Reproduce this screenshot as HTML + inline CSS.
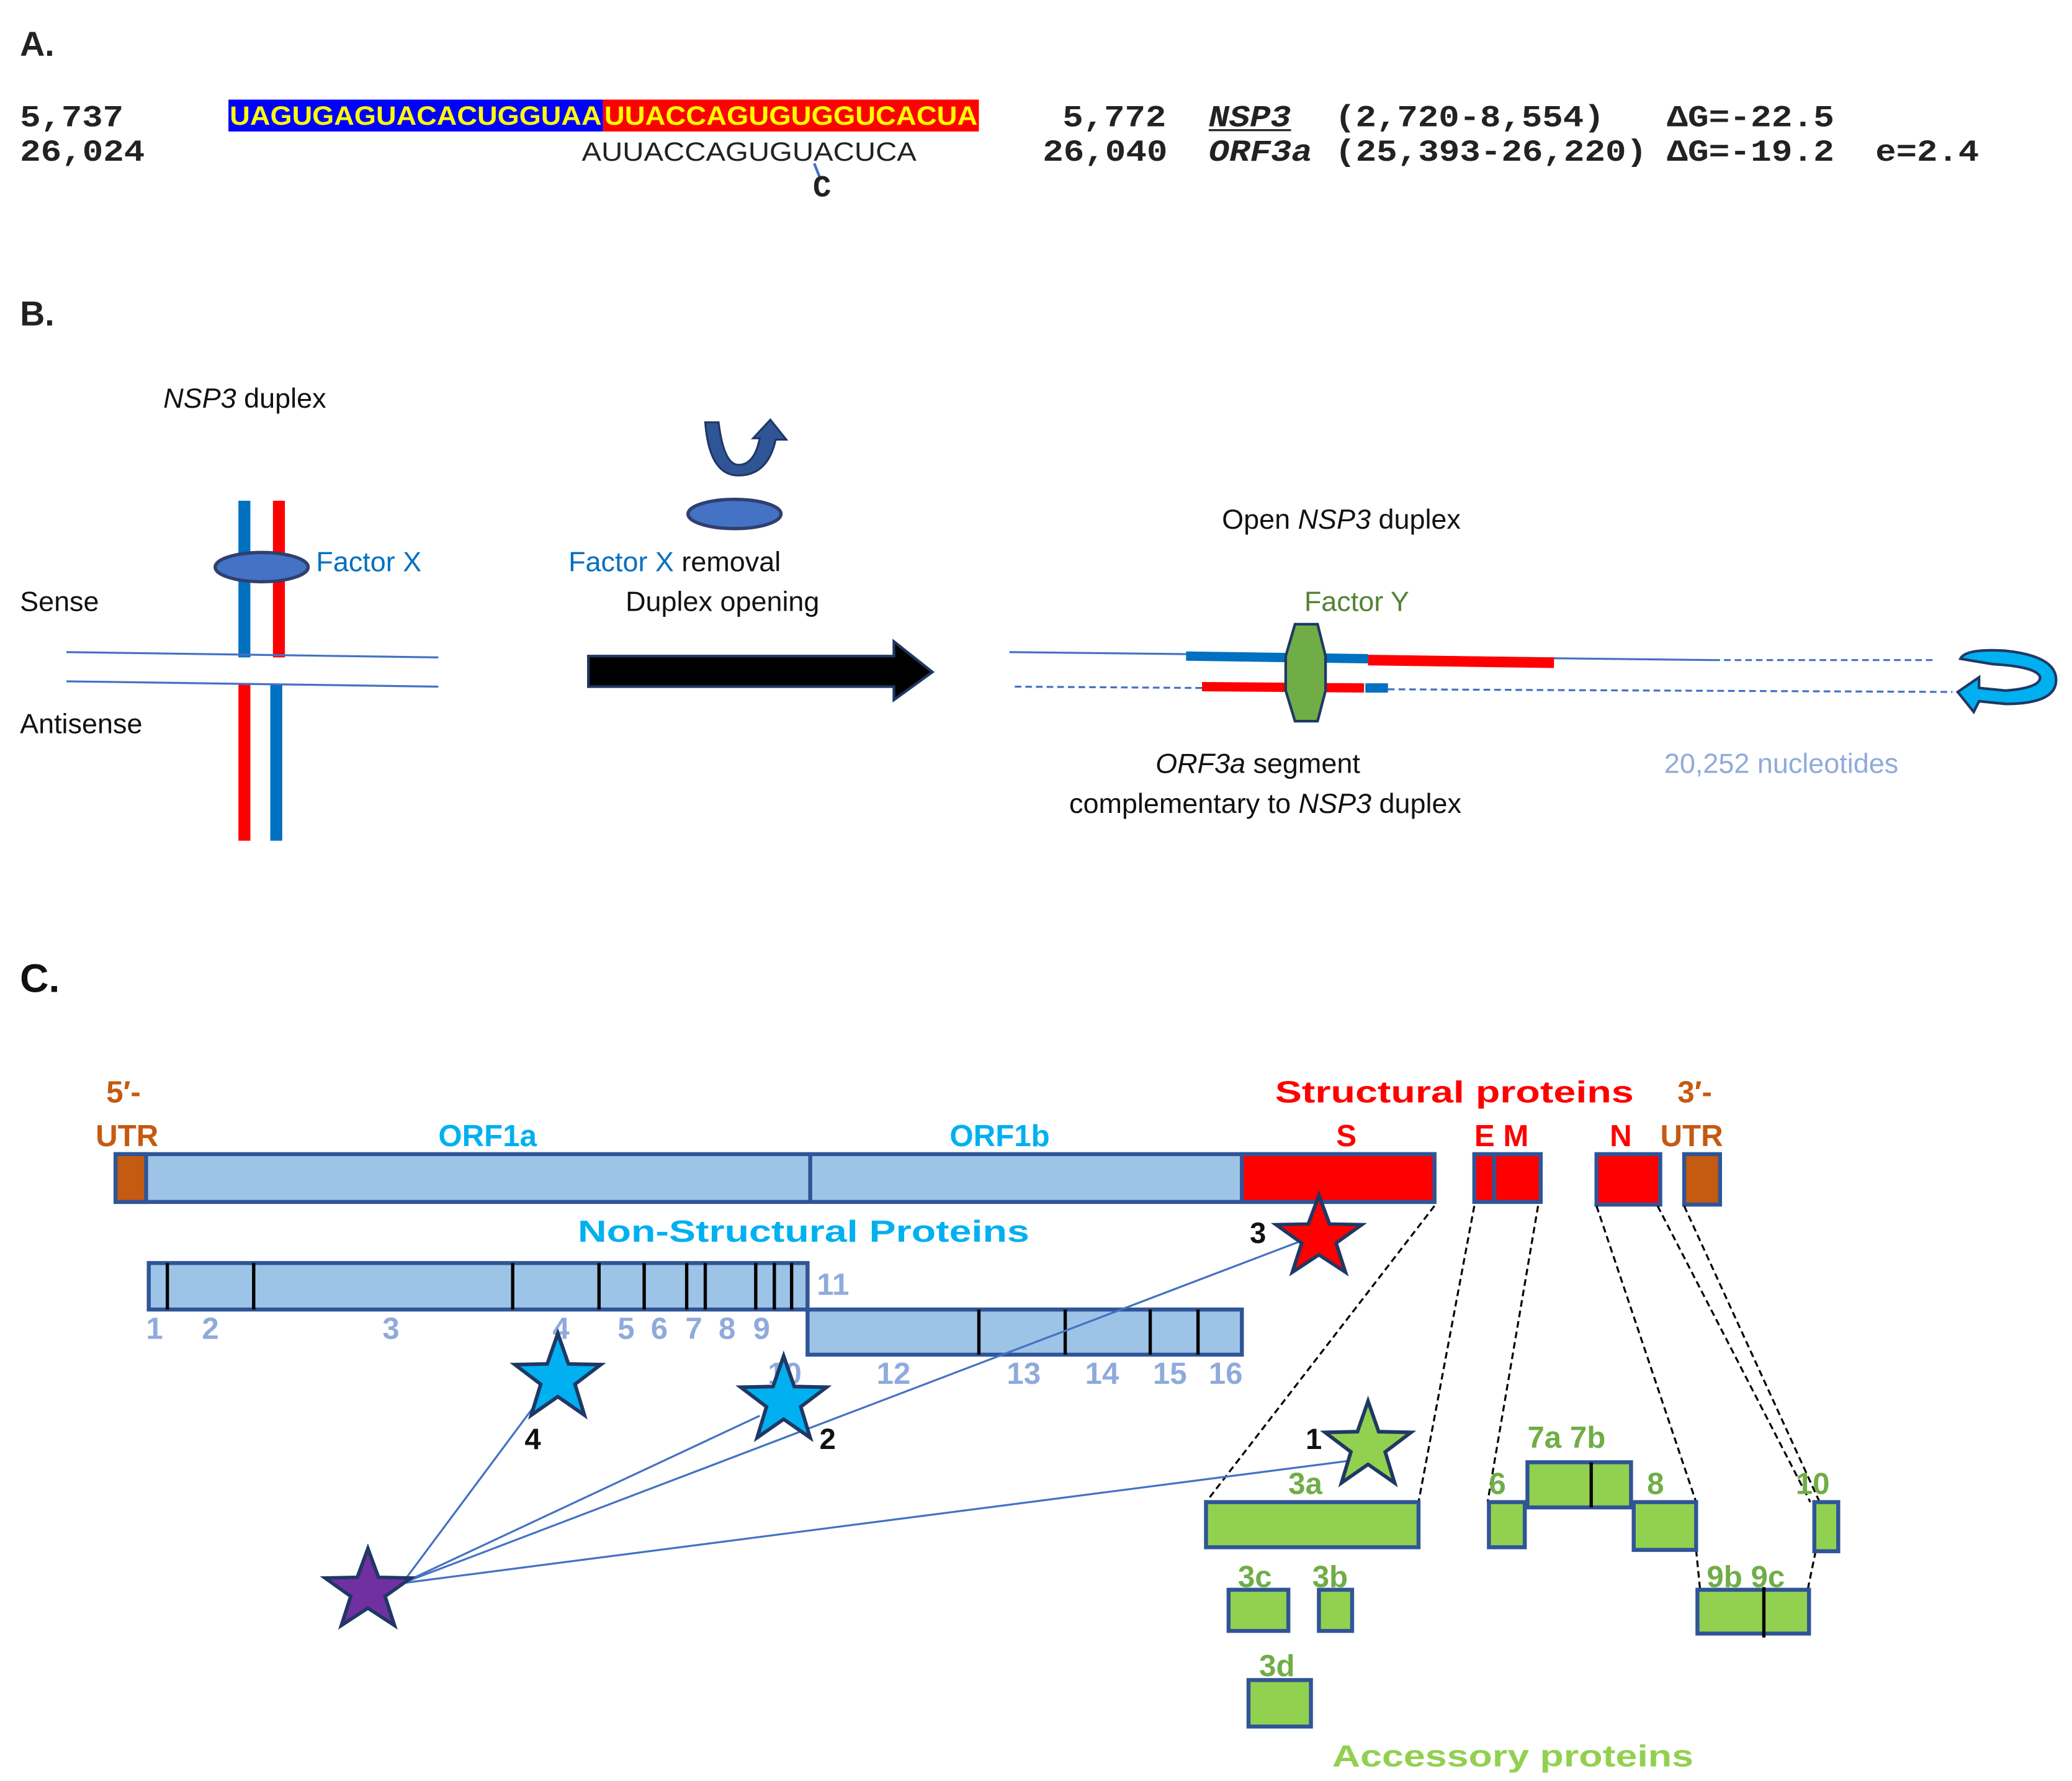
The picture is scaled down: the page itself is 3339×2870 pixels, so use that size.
<!DOCTYPE html>
<html><head><meta charset="utf-8"><style>
html,body{margin:0;padding:0;background:#fff;}
svg{display:block;}
text{font-family:"Liberation Sans",sans-serif;}
.m{font-family:"Liberation Mono",monospace;font-weight:bold;font-size:23px;fill:#222;}
.b{font-weight:bold;}
</style></head><body>
<svg width="3339" height="2870" viewBox="0 0 1560 1341" preserveAspectRatio="none" xmlns="http://www.w3.org/2000/svg">
<!-- A -->
<text x="15" y="42" class="b" font-size="26" fill="#222">A.</text>
<rect x="172" y="75" width="282" height="24" fill="#0000ff"/>
<rect x="454" y="75" width="283" height="24" fill="#ff0000"/>
<text x="173" y="94" font-size="20" font-weight="bold" fill="#ffff00" textLength="280" lengthAdjust="spacingAndGlyphs">UAGUGAGUACACUGGUAA</text>
<text x="455" y="94" font-size="20" font-weight="bold" fill="#ffff00" textLength="281" lengthAdjust="spacingAndGlyphs">UUACCAGUGUGGUCACUA</text>
<text x="15" y="95" class="m" textLength="78" lengthAdjust="spacingAndGlyphs">5,737</text>
<text x="15" y="121" class="m" textLength="94" lengthAdjust="spacingAndGlyphs">26,024</text>
<text x="438" y="121" font-size="20" fill="#222" textLength="252" lengthAdjust="spacingAndGlyphs">AUUACCAGUGUACUCA</text>
<line x1="613" y1="123" x2="617" y2="133" stroke="#4472c4" stroke-width="2"/>
<text x="612" y="148" class="m" font-size="20">C</text>
<text x="800" y="95" class="m" textLength="78" lengthAdjust="spacingAndGlyphs">5,772</text>
<text x="910" y="95" class="m" font-style="italic" textLength="62" lengthAdjust="spacingAndGlyphs">NSP3</text>
<line x1="910" y1="98" x2="972" y2="98" stroke="#222" stroke-width="1.5"/>
<text x="1005" y="95" class="m" textLength="203" lengthAdjust="spacingAndGlyphs">(2,720-8,554)</text>
<text x="1255" y="95" class="m" textLength="126" lengthAdjust="spacingAndGlyphs">ΔG=-22.5</text>
<text x="785" y="121" class="m" textLength="94" lengthAdjust="spacingAndGlyphs">26,040</text>
<text x="910" y="121" class="m" font-style="italic" textLength="78" lengthAdjust="spacingAndGlyphs">ORF3a</text>
<text x="1005" y="121" class="m" textLength="235" lengthAdjust="spacingAndGlyphs">(25,393-26,220)</text>
<text x="1255" y="121" class="m" textLength="126" lengthAdjust="spacingAndGlyphs">ΔG=-19.2</text>
<text x="1412" y="121" class="m" textLength="78" lengthAdjust="spacingAndGlyphs">e=2.4</text>
<!-- B -->
<text x="15" y="245" class="b" font-size="26" fill="#222">B.</text>
<text x="123" y="307" font-size="21" fill="#111"><tspan font-style="italic">NSP3</tspan> duplex</text>
<line x1="184" y1="377" x2="184" y2="495" stroke="#0070c0" stroke-width="9"/>
<line x1="210" y1="377" x2="210" y2="495" stroke="#ff0000" stroke-width="9"/>
<line x1="184" y1="515" x2="184" y2="633" stroke="#ff0000" stroke-width="9"/>
<line x1="208" y1="515" x2="208" y2="633" stroke="#0070c0" stroke-width="9"/>
<line x1="50" y1="491" x2="330" y2="495" stroke="#4472c4" stroke-width="1.5"/>
<line x1="50" y1="513" x2="330" y2="517" stroke="#4472c4" stroke-width="1.5"/>
<ellipse cx="197" cy="427" rx="35" ry="11" fill="#4472c4" stroke="#2f3f6f" stroke-width="2.5"/>
<text x="238" y="430" font-size="21" fill="#0070c0">Factor X</text>
<text x="15" y="460" font-size="21" fill="#111">Sense</text>
<text x="15" y="552" font-size="21" fill="#111">Antisense</text>
<path d="M531,318 L541,318 Q545,350 556,350 Q568,350 572,330 L567,330 L580,316 L592,331 L584,331 Q578,358 556,358 Q534,358 531,318 Z" fill="#2f5597" stroke="#1f3864" stroke-width="1.5"/>
<ellipse cx="553" cy="387" rx="35" ry="11" fill="#4472c4" stroke="#2f3f6f" stroke-width="2.5"/>
<text x="428" y="430" font-size="21" fill="#0070c0">Factor X <tspan fill="#111">removal</tspan></text>
<text x="471" y="460" font-size="21" fill="#111">Duplex opening</text>
<polygon points="443,494 673,494 673,483 702,506 673,527 673,517 443,517" fill="#000" stroke="#1f3864" stroke-width="2"/>
<text x="920" y="398" font-size="21" fill="#111">Open <tspan font-style="italic">NSP3</tspan> duplex</text>
<text x="982" y="460" font-size="21" fill="#548235">Factor Y</text>
<line x1="760" y1="491" x2="1290" y2="497" stroke="#4472c4" stroke-width="1.5"/>
<line x1="1290" y1="497" x2="1455" y2="497" stroke="#4472c4" stroke-width="1.5" stroke-dasharray="5,3"/>
<line x1="893" y1="494" x2="1030" y2="496" stroke="#0070c0" stroke-width="7"/>
<line x1="1030" y1="497" x2="1170" y2="499" stroke="#ff0000" stroke-width="8"/>
<line x1="764" y1="517" x2="905" y2="518" stroke="#4472c4" stroke-width="1.5" stroke-dasharray="5,3"/>
<line x1="905" y1="517" x2="1027" y2="518" stroke="#ff0000" stroke-width="7"/>
<line x1="1028" y1="518" x2="1045" y2="518" stroke="#0070c0" stroke-width="7"/>
<line x1="1045" y1="519" x2="1470" y2="521" stroke="#4472c4" stroke-width="1.5" stroke-dasharray="5,3"/>
<polygon points="975,470 992,470 998,494 998,520 992,543 975,543 968,520 968,494" fill="#70ad47" stroke="#1f3864" stroke-width="2"/>
<path d="M1476,496 Q1480,488 1510,490 Q1548,494 1548,512 Q1548,530 1510,530 L1490,528 L1486,536 L1474,521 L1490,510 L1490,518 L1510,520 Q1536,518 1536,510 Q1534,502 1500,500 Z" fill="#00b0f0" stroke="#1f3864" stroke-width="2"/>
<text x="870" y="582" font-size="21" fill="#111"><tspan font-style="italic">ORF3a</tspan> segment</text>
<text x="805" y="612" font-size="21" fill="#111">complementary to <tspan font-style="italic">NSP3</tspan> duplex</text>
<text x="1253" y="582" font-size="21" fill="#8faadc">20,252 nucleotides</text>
<!-- C -->
<text x="15" y="747" class="b" font-size="30" fill="#111" font-family="Liberation Mono">C.</text>
<g font-weight="bold" font-size="23">
<text x="80" y="830" fill="#c55a11">5′-</text>
<text x="72" y="863" fill="#c55a11">UTR</text>
<text x="330" y="863" fill="#00b0f0">ORF1a</text>
<text x="715" y="863" fill="#00b0f0">ORF1b</text>
<text x="1006" y="863" fill="#ff0000">S</text>
<text x="960" y="830" fill="#ff0000" textLength="270" lengthAdjust="spacingAndGlyphs">Structural proteins</text>
<text x="1110" y="863" fill="#ff0000">E M</text>
<text x="1212" y="863" fill="#ff0000">N</text>
<text x="1263" y="830" fill="#c55a11">3′-</text>
<text x="1250" y="863" fill="#c55a11">UTR</text>
<text x="435" y="935" fill="#00b0f0" textLength="340" lengthAdjust="spacingAndGlyphs">Non-Structural Proteins</text>
</g>
<g stroke="#2f5597" stroke-width="3">
<rect x="87" y="869" width="993" height="36" fill="#9dc3e6"/>
<rect x="87" y="869" width="23" height="36" fill="#c55a11"/>
<line x1="610" y1="869" x2="610" y2="905"/>
<rect x="935" y="869" width="145" height="36" fill="#ff0000"/>
<rect x="1110" y="869" width="50" height="36" fill="#ff0000"/>
<line x1="1125" y1="869" x2="1125" y2="905"/>
<rect x="1202" y="869" width="48" height="38" fill="#ff0000"/>
<rect x="1268" y="869" width="27" height="38" fill="#c55a11"/>
<rect x="112" y="951" width="496" height="35" fill="#9dc3e6"/>
<rect x="608" y="986" width="327" height="34" fill="#9dc3e6"/>
</g>
<g stroke="#000" stroke-width="2.5">
<line x1="126" y1="951" x2="126" y2="986"/><line x1="191" y1="951" x2="191" y2="986"/>
<line x1="386" y1="951" x2="386" y2="986"/><line x1="451" y1="951" x2="451" y2="986"/>
<line x1="485" y1="951" x2="485" y2="986"/><line x1="517" y1="951" x2="517" y2="986"/>
<line x1="531" y1="951" x2="531" y2="986"/><line x1="569" y1="951" x2="569" y2="986"/>
<line x1="583" y1="951" x2="583" y2="986"/><line x1="596" y1="951" x2="596" y2="986"/>
<line x1="737" y1="986" x2="737" y2="1020"/><line x1="802" y1="986" x2="802" y2="1020"/>
<line x1="866" y1="986" x2="866" y2="1020"/><line x1="902" y1="986" x2="902" y2="1020"/>
</g>
<g font-weight="bold" font-size="23" fill="#8faadc">
<text x="615" y="975">11</text>
<text x="110" y="1008">1</text><text x="152" y="1008">2</text><text x="288" y="1008">3</text>
<text x="416" y="1008">4</text><text x="465" y="1008">5</text><text x="490" y="1008">6</text>
<text x="516" y="1008">7</text><text x="541" y="1008">8</text><text x="567" y="1008">9</text>
<text x="578" y="1042">10</text><text x="660" y="1042">12</text><text x="758" y="1042">13</text>
<text x="817" y="1042">14</text><text x="868" y="1042">15</text><text x="910" y="1042">16</text>
</g>
<g stroke="#000" stroke-width="1.5" stroke-dasharray="5,3" fill="none">
<line x1="1080" y1="908" x2="908" y2="1131"/>
<line x1="1110" y1="908" x2="1068" y2="1131"/>
<line x1="1158" y1="908" x2="1120" y2="1131"/>
<line x1="1202" y1="908" x2="1277" y2="1131"/>
<line x1="1248" y1="908" x2="1363" y2="1131"/>
<line x1="1268" y1="908" x2="1370" y2="1131"/>
<line x1="1277" y1="1167" x2="1280" y2="1197"/>
<line x1="1367" y1="1168" x2="1361" y2="1197"/>
</g>
<g stroke="#2f5597" stroke-width="3" fill="#92d050">
<rect x="908" y="1131" width="160" height="34"/>
<rect x="925" y="1197" width="45" height="31"/>
<rect x="993" y="1197" width="25" height="31"/>
<rect x="940" y="1265" width="47" height="35"/>
<rect x="1121" y="1131" width="27" height="34"/>
<rect x="1150" y="1101" width="78" height="34"/>
<rect x="1230" y="1131" width="47" height="36"/>
<rect x="1366" y="1131" width="18" height="37"/>
<rect x="1278" y="1197" width="84" height="33"/>
</g>
<line x1="1198" y1="1101" x2="1198" y2="1135" stroke="#000" stroke-width="2.5"/>
<line x1="1328" y1="1195" x2="1328" y2="1233" stroke="#000" stroke-width="2.5"/>
<g font-weight="bold" font-size="23" fill="#70ad47">
<text x="970" y="1125">3a</text><text x="932" y="1195">3c</text><text x="988" y="1195">3b</text>
<text x="948" y="1262">3d</text><text x="1121" y="1125">6</text><text x="1150" y="1090">7a 7b</text>
<text x="1240" y="1125">8</text><text x="1352" y="1125">10</text><text x="1285" y="1195">9b 9c</text>
</g>
<text x="1003" y="1330" font-weight="bold" font-size="23" fill="#92d050" textLength="272" lengthAdjust="spacingAndGlyphs">Accessory proteins</text>
<g stroke="#4472c4" stroke-width="1.5">
<line x1="303" y1="1192" x2="405" y2="1055"/>
<line x1="303" y1="1192" x2="572" y2="1066"/>
<line x1="303" y1="1192" x2="978" y2="935"/>
<line x1="303" y1="1192" x2="1015" y2="1100"/>
</g>
<g stroke="#1f3864" stroke-width="0.08" stroke-linejoin="miter">
<polygon transform="translate(993,932) scale(34,32)" fill="#ff0000" points="0,-1 0.235,-0.324 0.951,-0.309 0.380,0.124 0.588,0.809 0,0.4 -0.588,0.809 -0.380,0.124 -0.951,-0.309 -0.235,-0.324"/>
<polygon transform="translate(420,1038) scale(34,34)" fill="#00b0f0" points="0,-1 0.235,-0.324 0.951,-0.309 0.380,0.124 0.588,0.809 0,0.4 -0.588,0.809 -0.380,0.124 -0.951,-0.309 -0.235,-0.324"/>
<polygon transform="translate(590,1055) scale(34,34)" fill="#00b0f0" points="0,-1 0.235,-0.324 0.951,-0.309 0.380,0.124 0.588,0.809 0,0.4 -0.588,0.809 -0.380,0.124 -0.951,-0.309 -0.235,-0.324"/>
<polygon transform="translate(1030,1089) scale(34,34)" fill="#92d050" points="0,-1 0.235,-0.324 0.951,-0.309 0.380,0.124 0.588,0.809 0,0.4 -0.588,0.809 -0.380,0.124 -0.951,-0.309 -0.235,-0.324"/>
<polygon transform="translate(277,1198) scale(34,32)" fill="#7030a0" points="0,-1 0.235,-0.324 0.951,-0.309 0.380,0.124 0.588,0.809 0,0.4 -0.588,0.809 -0.380,0.124 -0.951,-0.309 -0.235,-0.324"/>
</g>
<g font-weight="bold" font-size="22" fill="#111">
<text x="941" y="936">3</text><text x="395" y="1091">4</text><text x="617" y="1091">2</text><text x="983" y="1091">1</text>
</g>
</svg>
</body></html>
